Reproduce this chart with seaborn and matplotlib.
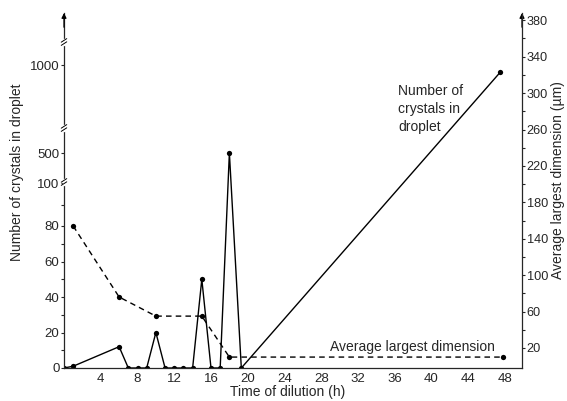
import numpy as np
import pandas as pd
import matplotlib
matplotlib.use("Agg")
import matplotlib.pyplot as plt
import seaborn as sns

# number of crystals in droplet (solid line)
time_n = [0, 1, 6, 7, 8, 9, 10, 11, 12, 13, 14, 15, 16, 17, 18, 19.3, 47.5]
crystals = [0, 1, 12, 0, 0, 0, 20, 0, 0, 0, 0, 50, 0, 0, 500, 0, 960]

# average largest dimension in um (dashed line, right axis)
time_d = [1, 6, 10, 15, 18, 47.8]
dimension = [154, 76, 55, 55, 10, 10]

x_ticks = list(range(4, 49, 4))
left_ticks = [0, 20, 40, 60, 80, 100, 500, 1000]
left_minor = [10, 30, 50, 70, 90]
right_ticks = list(range(20, 381, 40))
right_minor = list(range(40, 361, 40))

sns.set_style("ticks")
plt.rcParams['font.family'] = ['Liberation Sans', 'DejaVu Sans']

# broken left axis: value -> pixel height above the x axis
brk_val = [0, 80, 100, 500, 1000, 1400]
brk_pos = [0, 142, 185, 215, 303, 373.4]


def fwd(v):
    return np.interp(v, brk_val, brk_pos)


def inv(h):
    return np.interp(h, brk_pos, brk_val)


W, H = 567, 401
fig = plt.figure(figsize=(W / 100, H / 100), dpi=100)
ax = fig.add_axes([64 / W, 33 / H, 458 / W, 355 / H])
ax.set_yscale('function', functions=(fwd, inv))

df_n = pd.DataFrame({'time': time_n, 'crystals': crystals})
df_d = pd.DataFrame({'time': time_d, 'dimension': dimension})

sns.lineplot(data=df_n, x='time', y='crystals', ax=ax, color='black', lw=1.0,
             marker='o', markersize=3.8, markeredgewidth=0, estimator=None,
             sort=False)
ax.set_xlim(0, 49.85)
ax.set_ylim(0, inv(355))
ax.set_xticks(x_ticks)
ax.set_yticks(left_ticks)
ax.set_yticks(left_minor, minor=True)
ax.set_xlabel('')
ax.set_ylabel('')
ax.tick_params(axis='x', length=0, pad=3.5, labelsize=9.5)
ax.tick_params(axis='y', which='major', length=2.5, width=0.8, pad=0.8, labelsize=9.5)
ax.tick_params(axis='y', which='minor', length=2, width=0.8)
for s in ['top', 'right']:
    ax.spines[s].set_visible(False)
for s in ['left', 'bottom']:
    ax.spines[s].set_linewidth(0.9)

ax2 = ax.twinx()
sns.lineplot(data=df_d, x='time', y='dimension', ax=ax2, color='black', lw=1.0,
             linestyle=(0, (4, 3)), marker='o', markersize=3.8,
             markeredgewidth=0, estimator=None, sort=False)
ax2.set_ylim(-2, 388)
ax2.set_yticks(right_ticks)
ax2.set_yticks(right_minor, minor=True)
ax2.set_ylabel('')
ax2.tick_params(axis='y', which='major', length=2.5, width=0.8, pad=1, labelsize=9.2)
ax2.tick_params(axis='y', which='minor', length=2, width=0.8)
for s in ['top', 'left', 'bottom']:
    ax2.spines[s].set_visible(False)
ax2.spines['right'].set_linewidth(0.9)

# arrow heads at the top of both vertical axes
for xf in (0, 1):
    ax.annotate('', xy=(xf, 1.0), xytext=(xf, 0.96), xycoords='axes fraction',
                arrowprops=dict(arrowstyle='-|>', color='black', lw=0.9,
                                mutation_scale=7, shrinkA=0, shrinkB=0))

# break marks on the left axis
for h in (326, 240, 186):
    f = h / 355
    ax.plot([0, 0], [f - 0.007, f + 0.007], color='white', lw=2.5,
            transform=ax.transAxes, clip_on=False, zorder=5)
    for d in (-0.0045, 0.0045):
        ax.plot([-0.006, 0.006], [f + d - 0.005, f + d + 0.005], color='black',
                lw=0.7, transform=ax.transAxes, clip_on=False, zorder=6)

fs = 10
fig.text(398 / W, 1 - 109 / H, 'Number of\ncrystals in\ndroplet', ha='left',
         va='center', fontsize=fs, linespacing=1.35)
fig.text(330 / W, 1 - 347 / H, 'Average largest dimension', ha='left',
         va='center', fontsize=fs)
fig.text(288 / W, 1 - 392 / H, 'Time of dilution (h)', ha='center',
         va='center', fontsize=fs)
fig.text(17 / W, 1 - 172 / H, 'Number of crystals in droplet', rotation=90,
         ha='center', va='center', fontsize=fs)
fig.text(558 / W, 1 - 180 / H, 'Average largest dimension (µm)', rotation=90,
         ha='center', va='center', fontsize=fs)

fig.savefig('out.png', dpi=100)
